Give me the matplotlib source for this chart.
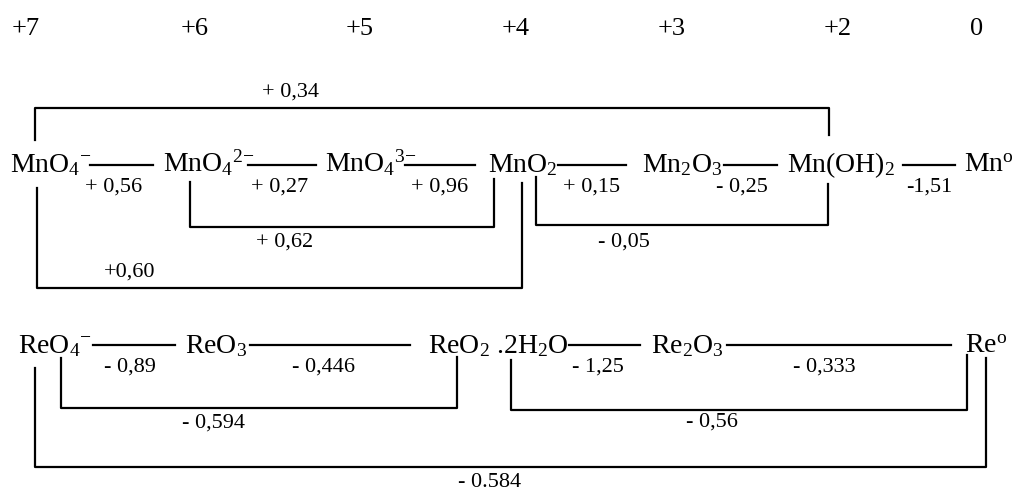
import matplotlib
matplotlib.use('Agg')
import matplotlib.pyplot as plt

# Latimer diagram of Mn and Re (basic solution), values in V

plt.rcParams['font.family'] = ['Liberation Serif', 'DejaVu Serif']
plt.rcParams['mathtext.fontset'] = 'custom'
plt.rcParams['mathtext.rm'] = 'Liberation Serif'
plt.rcParams['mathtext.it'] = 'Liberation Serif:italic'

# oxidation states heading
ox_states = ['+7', '+6', '+5', '+4', '+3', '+2', '0']

# manganese
mn_species = [r'MnO$_4$$^{{-}}$', r'MnO$_4$$^{2{-}}$', r'MnO$_4$$^{3{-}}$', r'MnO$_2$',
              r'Mn$_2$O$_3$', r'Mn(OH)$_2$', r'Mn$^{\rm o}$']
mn_steps = ['+ 0,56', '+ 0,27', '+ 0,96', '+ 0,15', '- 0,25', '-1,51']
mn_links = ['+ 0,34', '+ 0,62', '+0,60', '- 0,05']

# rhenium
re_species = [r'ReO$_4$$^{{-}}$', r'ReO$_3$', r'ReO$_2$ .2H$_2$O', r'Re$_2$O$_3$', r'Re$^{\rm o}$']
re_steps = ['- 0,89', '- 0,446', '- 1,25', '- 0,333']
re_links = ['- 0,594', '- 0,56', '- 0.584']

# ---- layout (pixel coordinates of the 1014x490 page) ----
ox_x = [26, 195, 360, 516, 672, 838, 977]
ox_y = 29

mn_y = 165
mn_base = 172
mn_x = [10, 163, 325, 488, 642, 787, 964]
mn_lines = [(90, 153), (248, 316), (405, 475), (558, 626), (724, 777), (903, 955)]
mn_step_x = [114, 280, 440, 592, 742, 929]
# (x_left, x_right, y_top_left, y_top_right, y_bar, label_x, label_y)
mn_brackets = [(35, 829, 140, 135, 108, 290, 92),
               (190, 494, 182, 179, 227, 285, 242),
               (37, 522, 188, 183, 288, 130, 272),
               (536, 828, 177, 184, 225, 624, 242)]

re_y = 345
re_base = 353
re_x = [18, 185, 428, 651, 965]
re_lines = [(93, 175), (250, 410), (569, 640), (727, 951)]
re_step_x = [130, 323, 598, 824]
re_brackets = [(61, 457, 358, 357, 408, 213, 423),
               (511, 967, 360, 355, 410, 712, 422),
               (35, 986, 368, 358, 467, 490, 482)]

fig = plt.figure(figsize=(10.14, 4.9), dpi=100)
ax = fig.add_axes([0, 0, 1, 1])
ax.set_xlim(0, 1014)
ax.set_ylim(490, 0)
ax.axis('off')

sp_size = 20
num_size = 16

for x, s in zip(ox_x, ox_states):
    ax.text(x, ox_y, s, fontsize=19, ha='center', va='center')


def draw_row(species, xs, y, base, lines, steps, step_x, brackets, links):
    for x, s in zip(xs, species):
        ax.text(x, base, s, fontsize=sp_size, ha='left', va='baseline')
    for (x0, x1), lab, lx in zip(lines, steps, step_x):
        ax.plot([x0, x1], [y, y], color='black', lw=1.6)
        ax.text(lx, y + 22, lab, fontsize=num_size, ha='center', va='center')
    for (xl, xr, yl, yr, yb, lx, ly), lab in zip(brackets, links):
        ax.plot([xl, xl, xr, xr], [yl, yb, yb, yr], color='black', lw=1.6)
        ax.text(lx, ly, lab, fontsize=num_size, ha='center', va='center')


draw_row(mn_species, mn_x, mn_y, mn_base, mn_lines, mn_steps, mn_step_x, mn_brackets, mn_links)
draw_row(re_species, re_x, re_y, re_base, re_lines, re_steps, re_step_x, re_brackets, re_links)

fig.savefig('out.png', dpi=100, facecolor='white')
